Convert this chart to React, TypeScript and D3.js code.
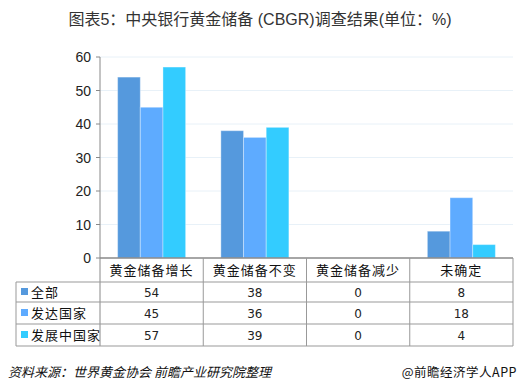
import React from "react";
import * as d3 from "d3";

const categories = ["黄金储备增长", "黄金储备不变", "黄金储备减少", "未确定"];
const seriesNames = ["全部", "发达国家", "发展中国家"];
const allValues = [54, 38, 0, 8];
const developedValues = [45, 36, 0, 18];
const developingValues = [57, 39, 0, 4];
const yTicks = [0, 10, 20, 30, 40, 50, 60];
const colors = ["#5599dd", "#5eabff", "#33ccff"];

const series = [allValues, developedValues, developingValues];

export default function App() {
  const W = 520, H = 391;
  const left = 100, right = 513, top = 57, bottom = 258;
  const x = d3.scaleBand<string>().domain(categories).range([left, right]).padding(0);
  const y = d3.scaleLinear().domain([0, 60]).range([bottom, top]);
  const bw = x.bandwidth();
  const groupW = 68;
  const inner = d3.scaleBand<number>().domain([0, 1, 2]).range([0, groupW]).padding(0);
  const rowLines = [258, 282, 302, 324, 346];
  const tableLeft = 16;
  const font = "'Liberation Sans', Arial, 'Noto Sans CJK SC', sans-serif";
  const cjk = "'Noto Sans CJK SC', sans-serif";
  const numFont = "'DejaVu Sans', Verdana, sans-serif";

  return (
    <svg width={W} height={H} style={{ position: "absolute", left: 0, top: 0, background: "#fff" }}>
      <text x={260} y={25} textAnchor="middle" fontSize={16} fill="#333" fontFamily={font}>
        图表5：中央银行黄金储备 (CBGR)调查结果(单位：%)
      </text>
      {yTicks.filter((t) => t > 0).map((t) => (
        <line key={"g" + t} x1={left} x2={right} y1={y(t)} y2={y(t)} stroke="#e8f1f8" strokeWidth={1} />
      ))}
      {categories.map((c, ci) =>
        series.map((s, si) => {
          const v = s[ci];
          if (v <= 0) return null;
          const bx = (x(c) as number) + (bw - groupW) / 2 + (inner(si) as number);
          return (
            <rect key={c + si} x={bx} y={y(v)} width={inner.bandwidth()} height={bottom - y(v)}
              fill={colors[si]} stroke="rgba(255,255,255,0.35)" strokeWidth={1} />
          );
        })
      )}
      <line x1={left} x2={left} y1={top} y2={346} stroke="#888" />
      {yTicks.map((t) => (
        <g key={"t" + t}>
          <line x1={96} x2={left} y1={y(t)} y2={y(t)} stroke="#888" />
          <text x={91} y={y(t) + 5} textAnchor="end" fontSize={14} fill="#222" fontFamily={font}>{t}</text>
        </g>
      ))}
      {/* table */}
      <line x1={left} x2={right} y1={bottom} y2={bottom} stroke="#888" strokeWidth={1.5} />
      {rowLines.slice(1).map((ry) => (
        <line key={"r" + ry} x1={tableLeft} x2={right} y1={ry} y2={ry} stroke="#999" />
      ))}
      <line x1={tableLeft} x2={tableLeft} y1={282} y2={346} stroke="#999" />
      {categories.map((c) => (
        <line key={"c" + c} x1={(x(c) as number) + bw} x2={(x(c) as number) + bw} y1={bottom} y2={346} stroke="#999" />
      ))}
      {categories.map((c) => (
        <text key={"h" + c} x={(x(c) as number) + bw / 2} y={275} textAnchor="middle" fontSize={13}
          letterSpacing={1} fill="#111" fontFamily={cjk}>{c}</text>
      ))}
      {seriesNames.map((n, si) => {
        const cy = (rowLines[si + 1] + rowLines[si + 2]) / 2;
        return (
          <g key={"s" + n}>
            <rect x={21} y={cy - 4} width={7} height={7} fill={colors[si]} />
            <text x={31} y={cy + 5} fontSize={13} fill="#111" fontFamily={cjk} letterSpacing={1}>{n}</text>
            {categories.map((c, ci) => (
              <text key={c} x={(x(c) as number) + bw / 2} y={cy + 5} textAnchor="middle" fontSize={12}
                fill="#222" fontFamily={numFont}>{series[si][ci]}</text>
            ))}
          </g>
        );
      })}
      <text x={8} y={377} fontSize={13} fontStyle="italic" fill="#111" fontFamily={cjk}>
        资料来源：世界黄金协会 前瞻产业研究院整理
      </text>
      <text x={517} y={377} textAnchor="end" fontSize={12.5} fill="#111" fontFamily={cjk} letterSpacing={0.5}>
        @前瞻经济学人APP
      </text>
    </svg>
  );
}
